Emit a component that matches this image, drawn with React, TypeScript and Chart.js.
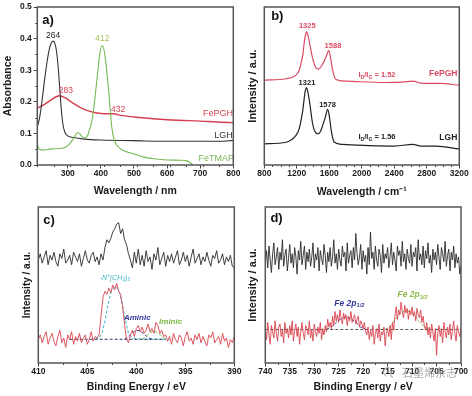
import React, { useEffect, useRef } from 'react';
import { Chart, registerables } from 'chart.js';
Chart.register(...registerables);

const FONT = "'Liberation Sans', Arial, Helvetica, sans-serif";
const W = 472;
const H = 396;

// ---------- Panel a: UV-vis ----------
const aTicksX = [300, 400, 500, 600, 700, 800];
const aTicksY = [0, 0.1, 0.2, 0.3, 0.4, 0.5];
const lghWl = [208, 215, 222, 230, 238, 245, 251, 256, 261, 266, 271, 276, 281, 286, 292, 300, 317, 350, 400, 500, 600, 700, 760, 800];
const lghAbs = [0.12, 0.15, 0.2, 0.27, 0.33, 0.37, 0.388, 0.392, 0.385, 0.36, 0.31, 0.24, 0.17, 0.125, 0.102, 0.092, 0.087, 0.082, 0.079, 0.077, 0.075, 0.075, 0.075, 0.078];
const fepghWl = [208, 230, 250, 265, 275, 290, 317, 340, 360, 380, 400, 420, 438, 460, 500, 550, 600, 650, 700, 750, 800];
const fepghAbs = [0.18, 0.192, 0.206, 0.216, 0.219, 0.214, 0.195, 0.181, 0.172, 0.166, 0.163, 0.162, 0.162, 0.157, 0.152, 0.147, 0.143, 0.141, 0.139, 0.136, 0.134];
const fetmapWl = [208, 214, 225, 250, 287, 301, 317, 329, 337, 345, 352, 362, 375, 387, 397, 404, 412, 423, 433, 440, 450, 470, 500, 530, 560, 600, 640, 660, 670, 678];
const fetmapAbs = [0.067, 0.05, 0.047, 0.051, 0.054, 0.062, 0.083, 0.102, 0.098, 0.088, 0.085, 0.099, 0.152, 0.258, 0.353, 0.378, 0.35, 0.24, 0.12, 0.08, 0.06, 0.045, 0.035, 0.025, 0.02, 0.016, 0.015, 0.013, 0.007, 0];

// ---------- Panel b: Raman ----------
const bTicksX = [800, 1200, 1600, 2000, 2400, 2800, 3200];
const ramanFePGHShift = [800, 1067, 1190, 1230, 1252, 1275, 1293, 1310, 1322, 1335, 1358, 1380, 1400, 1430, 1465, 1522, 1560, 1593, 1615, 1641, 1682, 1805, 2297, 2500, 2625, 2748, 2953, 3200];
const ramanFePGH = [53.7, 54.6, 56.9, 60, 64.3, 70, 78.1, 83, 84.5, 82.5, 77, 71, 66.5, 62, 60.7, 64.3, 68.5, 72.4, 68, 60, 54.1, 53.1, 52.2, 52.5, 53.1, 51.6, 51.6, 50.5];
const ramanLGHShift = [800, 1067, 1190, 1230, 1252, 1275, 1293, 1305, 1317, 1330, 1354, 1370, 1395, 1420, 1457, 1490, 1518, 1550, 1580, 1600, 1621, 1640, 1662, 1764, 2092, 2400, 2625, 2748, 2912, 3200];
const ramanLGH = [13.4, 14.4, 18.7, 23, 28.2, 35, 43, 47, 49, 47.5, 41, 35, 26.1, 21.5, 19.7, 21, 25.1, 30, 35.2, 31, 22.9, 17.5, 14.4, 13, 12.3, 12, 13, 11.9, 11.9, 10.2];

// ---------- Panel c: N 1s XPS ----------
const cTicksX = [410, 405, 400, 395, 390];
const cStart = 410;
const cStep = 0.2;
const n1sLGH = [66, 70, 64, 68, 72, 63, 69, 66, 71, 65, 62, 70, 67, 73, 64, 66, 69, 63, 71, 68, 65, 70, 62, 67, 72, 66, 64, 69, 71, 65, 68, 63, 70, 66,
  74, 79, 77, 80, 84, 86, 89, 90, 83, 86, 79, 76, 70,
  66, 61, 71, 64, 73, 63, 69, 62, 72, 65, 68, 60, 70, 66, 74, 63, 67, 71, 62, 69, 65, 70, 64, 68, 72, 63, 66, 71, 65, 69, 62, 68, 73, 64, 67, 70, 63, 68, 65, 71, 66, 62, 69, 67, 72, 64, 66, 70, 63, 68, 65, 69, 62, 61];
const n1sFePGH = [15, 18, 13, 17, 20, 12, 16, 19, 14, 11, 17, 21, 13, 16, 10, 18, 15, 20, 12, 17, 14, 19, 13, 16, 18, 12, 15, 20, 14, 17, 16,
  18, 30, 42, 46, 44, 48, 45, 50, 47, 51, 46, 44, 36, 25, 15, 13,
  18, 21, 17, 22, 24, 20, 23, 19, 21, 25, 20, 22, 19, 26, 24, 19, 21, 17, 18,
  14, 17, 12, 19, 15, 13, 18, 16, 11, 17, 20, 14, 16, 12, 18, 15, 19, 13, 17, 14, 11, 18, 16, 20, 13, 15, 17, 12, 19, 14, 16, 10, 15, 13, 17];
const cBaseE = [406.8, 397];
const cBaseI = [15.2, 15.2];
const cQuatE = [404.2, 403.8, 403.5, 403.2, 402.9, 402.6, 402.3, 402.0, 401.7, 401.4, 401.1, 400.8, 400.4, 399.5, 398.5, 397.5, 396.6];
const cQuatI = [15.2, 16, 19, 27, 37, 45, 48.5, 48.5, 45, 37, 27, 19, 16, 15.3, 15.2, 15.2, 15.0];
const cAminE = [401.2, 400.8, 400.4, 400.0, 399.6, 399.2, 398.8, 398.4];
const cAminI = [15.3, 17, 19.5, 21, 20.5, 18.5, 16.3, 15.3];
const cIminE = [399.4, 399.0, 398.6, 398.2, 397.8, 397.4, 397.0];
const cIminI = [15.3, 17, 19.5, 20.5, 19.5, 17, 15.3];

// ---------- Panel d: Fe 2p XPS ----------
const dTicksX = [740, 735, 730, 725, 720, 715, 710, 705, 700];
const dStart = 740;
const dStep = 0.25;
const fe2pLGH = [
  64, 72, 61, 75, 66, 58, 70, 77, 63, 68, 74, 60, 71, 66, 79, 62, 69, 73, 59, 67,
  76, 64, 70, 61, 74, 68, 57, 72, 66, 78, 63, 69, 75, 60, 71, 65, 73, 62, 68, 77,
  61, 70, 66, 74, 59, 72, 67, 63, 76, 69, 58, 71, 65, 74, 62, 68, 79, 64, 70, 60,
  73, 66, 62, 75, 68, 71, 59, 77, 64, 69, 72, 61, 74, 66, 83, 70, 63, 68, 76, 60,
  72, 65, 69, 57, 74, 63, 84, 67, 71, 60, 75, 66, 62, 73, 69, 58, 76, 64, 70, 67,
  74, 61, 68, 77, 63, 71, 66, 59, 75, 69, 72, 62, 78, 65, 70, 60, 73, 67, 64, 76,
  62, 71, 68, 74, 59, 79, 66, 70, 63, 75, 61, 72, 67, 77, 64, 69, 58, 73, 66, 71,
  63, 76, 68, 60, 74, 70, 65, 78, 62, 69, 73, 59, 71, 66, 75, 61, 70, 64, 68, 57,
  62];
const fe2pFePGH = [
  22, 15, 26, 18, 12, 24, 20, 16, 27, 19, 14, 23, 25, 17, 21, 13, 26, 19, 22, 16,
  24, 18, 27, 14, 21, 25, 17, 23, 12, 20, 26, 19, 15, 24, 22, 18, 27, 16, 21, 14,
  25, 20, 17, 23, 19, 26, 15, 22, 18, 24, 20, 28, 23, 26, 22,
  30, 24, 33, 27, 31,
  26, 34, 29, 25, 32, 28, 31, 24, 30, 27, 33, 26, 29, 31, 25, 28, 30, 23, 27, 25,
  22, 26, 20,
  18, 23, 15, 21, 17, 24, 12, 19, 22, 16, 25, 14, 20, 18, 23, 11, 19,
  22, 17, 24, 15, 26, 21,
  30, 36, 28, 34, 31, 39, 33, 29, 37, 32, 35, 28, 34, 31,
  36, 30, 33, 27, 35, 31, 29, 34, 26, 30, 24,
  21, 26, 18, 23, 16, 25, 20, 14, 22,
  5,
  19, 24, 17, 22, 13, 26, 20, 16, 23, 18, 25, 15, 21, 27, 19, 14, 24, 20, 17, 22];
const dBaseE = [740, 700];
const dBaseI = [21.5, 21.5];
const dHalfE = [727.5, 726.5, 725.5, 724.5, 723.5, 722.5, 721.5, 720.5, 719.5];
const dHalfI = [21.6, 23, 26, 28.5, 29.5, 28.5, 26, 23, 21.6];
const dThreeE = [715.5, 714.5, 713.5, 712.5, 711.5, 710.5, 709.5, 708.5, 707.5, 706.5];
const dThreeI = [21.6, 23.5, 27.5, 31.5, 33.5, 33, 30.5, 26.5, 23, 21.6];

// ---------- helpers ----------
const xy = (xs: number[], ys: number[]) => xs.map((x, i) => ({ x, y: ys[i] }));
const grid = (start: number, step: number, vals: number[]) => vals.map((v, i) => ({ x: start - i * step, y: v }));

type Seg = { t: string; s?: 'sub' | 'sup' };
type Note = { x: number; y: number; segs: Seg[] | string; color: string; size: number; weight?: string; style?: string };

function notesPlugin(items: Note[]) {
  return {
    id: 'notes',
    afterDatasetsDraw(chart: any) {
      const { ctx } = chart;
      const xs = chart.scales.x, ys = chart.scales.y;
      for (const n of items) {
        const px = xs.getPixelForValue(n.x);
        const py = ys.getPixelForValue(n.y);
        const segs: Seg[] = typeof n.segs === 'string' ? [{ t: n.segs }] : n.segs;
        const fontFor = (s: Seg) => `${n.style || 'normal'} ${n.weight || 'normal'} ${s.s ? n.size * 0.68 : n.size}px ${FONT}`;
        let total = 0;
        const widths = segs.map((s) => { ctx.font = fontFor(s); const w = ctx.measureText(s.t).width; total += w; return w; });
        let cx = px - total / 2;
        ctx.save();
        ctx.fillStyle = n.color;
        ctx.textBaseline = 'middle';
        ctx.textAlign = 'left';
        segs.forEach((s, i) => {
          ctx.font = fontFor(s);
          const dy = s.s === 'sub' ? n.size * 0.28 : s.s === 'sup' ? -n.size * 0.32 : 0;
          ctx.fillText(s.t, cx, py + dy);
          cx += widths[i];
        });
        ctx.restore();
      }
    },
  };
}

function framePlugin(minorX: number, minorY: number, majorsX: number[], majorsY: number[]) {
  return {
    id: 'frame',
    afterDraw(chart: any) {
      const { ctx, chartArea: a } = chart;
      const xs = chart.scales.x, ys = chart.scales.y;
      ctx.save();
      ctx.strokeStyle = '#444';
      ctx.lineWidth = 1;
      ctx.beginPath();
      if (minorX > 0) {
        for (let v = Math.min(xs.min, xs.max); v <= Math.max(xs.min, xs.max) + 1e-9; v += minorX) {
          if (majorsX.some((m) => Math.abs(m - v) < 1e-6)) continue;
          const p = Math.round(xs.getPixelForValue(v)) + 0.5;
          ctx.moveTo(p, a.bottom);
          ctx.lineTo(p, a.bottom + 2);
        }
      }
      if (minorY > 0) {
        for (let v = ys.min; v <= ys.max + 1e-9; v += minorY) {
          if (majorsY.some((m) => Math.abs(m - v) < 1e-6)) continue;
          const p = Math.round(ys.getPixelForValue(v)) + 0.5;
          ctx.moveTo(a.left, p);
          ctx.lineTo(a.left - 2, p);
        }
      }
      ctx.stroke();
      ctx.strokeStyle = '#555';
      ctx.lineWidth = 1.5;
      ctx.strokeRect(a.left, a.top, a.right - a.left, a.bottom - a.top);
      ctx.restore();
    },
  };
}

const watermarkPlugin = {
  id: 'watermark',
  afterDraw(chart: any) {
    const { ctx } = chart;
    ctx.save();
    ctx.globalAlpha = 0.75;
    ctx.strokeStyle = '#9a9a9a';
    ctx.lineWidth = 1.2;
    ctx.beginPath();
    ctx.arc(388, 372, 4.5, Math.PI * 0.6, Math.PI * 1.6);
    ctx.stroke();
    ctx.beginPath();
    ctx.arc(394, 374, 3.5, Math.PI * 0.6, Math.PI * 1.6);
    ctx.stroke();
    ctx.fillStyle = '#8a8a8a';
    ctx.font = "11px 'Noto Sans CJK SC', sans-serif";
    ctx.textBaseline = 'middle';
    ctx.fillText('石墨烯杂志', 402, 373);
    ctx.restore();
  },
};

type Geo = { left: number; top: number; right: number; bottom: number; yW: number; xH: number; xPad: number; yPad: number };

function makeChart(canvas: HTMLCanvasElement, p: {
  geo: Geo; datasets: any[]; xMin: number; xMax: number; reverse: boolean; xTicks: number[]; xTitle: string;
  yMin: number; yMax: number; yTicks: number[] | null; yTitle: string; yTitleSize: number; notes: Note[];
  minorX: number; minorY: number; extra?: any[];
}) {
  const g = p.geo;
  const tickFont = { family: FONT, size: 8.5, weight: 'bold' as const };
  const titleFont = { family: FONT, size: 10.5, weight: 'bold' as const };
  return new Chart(canvas, {
    type: 'line',
    data: { datasets: p.datasets },
    options: {
      animation: false,
      responsive: false,
      maintainAspectRatio: false,
      events: [],
      layout: { padding: { left: g.left - g.yW, top: g.top, right: W - g.right, bottom: H - g.bottom - g.xH } },
      plugins: { legend: { display: false }, tooltip: { enabled: false } },
      elements: { point: { radius: 0 } },
      scales: {
        x: {
          type: 'linear', min: p.xMin, max: p.xMax, reverse: p.reverse,
          afterBuildTicks: (s: any) => { s.ticks = p.xTicks.map((v) => ({ value: v })); },
          afterFit: (s: any) => { s.height = g.xH; s.paddingLeft = 0; s.paddingRight = 0; },
          grid: { display: true, drawOnChartArea: false, drawTicks: true, tickLength: 3.5, color: '#444', lineWidth: 1 },
          border: { display: false },
          ticks: { font: tickFont, color: '#1a1a1a', padding: 0, maxRotation: 0, autoSkip: false, callback: (v: any) => String(v) },
          title: { display: true, text: p.xTitle, font: titleFont, color: '#1a1a1a', padding: { top: 0, bottom: g.xPad } },
        },
        y: {
          type: 'linear', min: p.yMin, max: p.yMax,
          afterBuildTicks: (s: any) => { s.ticks = (p.yTicks || []).map((v) => ({ value: v })); },
          afterFit: (s: any) => { s.width = g.yW; s.paddingTop = 0; s.paddingBottom = 0; },
          grid: { display: !!p.yTicks, drawOnChartArea: false, drawTicks: true, tickLength: 3.5, color: '#444', lineWidth: 1 },
          border: { display: false },
          ticks: { display: !!p.yTicks, font: tickFont, color: '#1a1a1a', padding: 2, callback: (v: any) => Number(v).toFixed(1) },
          title: { display: true, text: p.yTitle, font: { ...titleFont, size: p.yTitleSize }, color: '#1a1a1a', padding: { top: g.yPad, bottom: 0 } },
        },
      },
    } as any,
    plugins: [framePlugin(p.minorX, p.minorY, p.xTicks, p.yTicks || []), notesPlugin(p.notes), ...(p.extra || [])],
  });
}

const RED = '#d63f50';
const line = (data: any[], color: string, width: number, extra: any = {}) => ({
  data, borderColor: color, borderWidth: width, pointRadius: 0, fill: false, ...extra,
});

export default function App() {
  const ra = useRef<HTMLCanvasElement>(null);
  const rb = useRef<HTMLCanvasElement>(null);
  const rc = useRef<HTMLCanvasElement>(null);
  const rd = useRef<HTMLCanvasElement>(null);

  useEffect(() => {
    document.body.style.margin = '0';
    const charts: Chart[] = [];
    const smooth = { cubicInterpolationMode: 'monotone', tension: 0.4 };

    charts.push(makeChart(ra.current!, {
      geo: { left: 37.3, top: 7, right: 233.3, bottom: 165, yW: 37.3, xH: 34, xPad: 1.5, yPad: 1.5 },
      datasets: [
        line(xy(fetmapWl, fetmapAbs), '#77ba57', 1.1, smooth),
        line(xy(lghWl, lghAbs), '#333333', 1.1, smooth),
        line(xy(fepghWl, fepghAbs), RED, 1.4, smooth),
      ],
      xMin: 208, xMax: 800, reverse: false, xTicks: aTicksX, xTitle: 'Wavelength / nm',
      yMin: 0, yMax: 0.5, yTicks: aTicksY, yTitle: 'Absorbance', yTitleSize: 10.5,
      minorX: 50, minorY: 0.05,
      notes: [
        { x: 240.4, y: 0.459, segs: 'a)', color: '#111', size: 13, weight: 'bold' },
        { x: 255.5, y: 0.408, segs: '264', color: '#222', size: 8.5 },
        { x: 404.7, y: 0.401, segs: '412', color: '#a3c058', size: 8.5 },
        { x: 294, y: 0.236, segs: '283', color: RED, size: 8.5 },
        { x: 452, y: 0.175, segs: '432', color: RED, size: 8.5 },
        { x: 753.7, y: 0.162, segs: 'FePGH', color: RED, size: 9 },
        { x: 770.7, y: 0.092, segs: 'LGH', color: '#333', size: 9 },
        { x: 748.6, y: 0.02, segs: 'FeTMAP', color: '#77ba57', size: 9 },
      ],
    }));

    const bRed = '#d94a62';
    charts.push(makeChart(rb.current!, {
      geo: { left: 264.3, top: 7, right: 459.3, bottom: 165, yW: 19, xH: 34, xPad: 1, yPad: 1.3 },
      datasets: [
        line(xy(ramanFePGHShift, ramanFePGH), bRed, 1.2, smooth),
        line(xy(ramanLGHShift, ramanLGH), '#222222', 1.2, smooth),
      ],
      xMin: 800, xMax: 3200, reverse: false, xTicks: bTicksX, xTitle: 'Wavelength / cm⁻¹',
      yMin: 0, yMax: 100, yTicks: null, yTitle: 'Intensity / a.u.', yTitleSize: 11,
      minorX: 100, minorY: 0,
      notes: [
        { x: 960, y: 94, segs: 'b)', color: '#111', size: 13, weight: 'bold' },
        { x: 1329, y: 87.7, segs: '1325', color: bRed, size: 7.5, weight: 'bold' },
        { x: 1645, y: 75.6, segs: '1588', color: bRed, size: 7.5, weight: 'bold' },
        { x: 2187, y: 56.9, segs: [{ t: 'I' }, { t: 'D', s: 'sub' }, { t: '/I' }, { t: 'G', s: 'sub' }, { t: ' = 1.52' }], color: bRed, size: 7.5, weight: 'bold' },
        { x: 3003, y: 57.5, segs: 'FePGH', color: bRed, size: 8.5, weight: 'bold' },
        { x: 1325, y: 52, segs: '1321', color: '#222', size: 7.5, weight: 'bold' },
        { x: 1578, y: 37.8, segs: '1578', color: '#222', size: 7.5, weight: 'bold' },
        { x: 2187, y: 17.6, segs: [{ t: 'I' }, { t: 'D', s: 'sub' }, { t: '/I' }, { t: 'G', s: 'sub' }, { t: ' = 1.56' }], color: '#222', size: 7.5, weight: 'bold' },
        { x: 3065, y: 17.6, segs: 'LGH', color: '#222', size: 8.5, weight: 'bold' },
      ],
    }));

    const dash = { borderDash: [3, 2] };
    charts.push(makeChart(rc.current!, {
      geo: { left: 38.3, top: 207, right: 234.3, bottom: 363, yW: 18, xH: 32, xPad: 1.5, yPad: 1 },
      datasets: [
        line(grid(cStart, cStep, n1sLGH), '#2a2a2a', 0.9),
        line(grid(cStart, cStep, n1sFePGH), '#d9454f', 0.9),
        line(xy(cBaseE, cBaseI), '#333a66', 1, dash),
        line(xy(cQuatE, cQuatI), '#3db6c9', 1, dash),
        line(xy(cAminE, cAminI), '#343a9a', 1, dash),
        line(xy(cIminE, cIminI), '#7cba45', 1, dash),
      ],
      xMin: 390, xMax: 410, reverse: true, xTicks: cTicksX, xTitle: 'Binding Energy / eV',
      yMin: 0, yMax: 100, yTicks: null, yTitle: 'Intensity / a.u.', yTitleSize: 10,
      minorX: 2.5, minorY: 0,
      notes: [
        { x: 408.9, y: 91.6, segs: 'c)', color: '#111', size: 13, weight: 'bold' },
        { x: 402.2, y: 54.7, segs: [{ t: '-N' }, { t: '+', s: 'sup' }, { t: '(CH' }, { t: '3', s: 'sub' }, { t: ')' }, { t: '3', s: 'sub' }], color: '#3db6c9', size: 7, style: 'italic' },
        { x: 399.9, y: 29, segs: 'Aminic', color: '#343a9a', size: 8, weight: 'bold', style: 'italic' },
        { x: 396.5, y: 26.3, segs: 'Iminic', color: '#7cba45', size: 8, weight: 'bold', style: 'italic' },
      ],
    }));

    charts.push(makeChart(rd.current!, {
      geo: { left: 265.3, top: 207, right: 461, bottom: 363, yW: 20, xH: 32, xPad: 1.5, yPad: 1.3 },
      datasets: [
        line(grid(dStart, dStep, fe2pLGH), '#2a2a2a', 0.9),
        line(grid(dStart, dStep, fe2pFePGH), '#d9454f', 0.9),
        line(xy(dBaseE, dBaseI), '#555555', 1, dash),
        line(xy(dHalfE, dHalfI), '#343a9a', 1, dash),
        line(xy(dThreeE, dThreeI), '#7cba45', 1, dash),
      ],
      xMin: 700, xMax: 740, reverse: true, xTicks: dTicksX, xTitle: 'Binding Energy / eV',
      yMin: 0, yMax: 100, yTicks: null, yTitle: 'Intensity / a.u.', yTitleSize: 11,
      minorX: 2.5, minorY: 0,
      notes: [
        { x: 737.7, y: 92.6, segs: 'd)', color: '#111', size: 13, weight: 'bold' },
        { x: 722.8, y: 38.3, segs: [{ t: 'Fe 2p' }, { t: '1/2', s: 'sub' }], color: '#343a9a', size: 8.5, weight: 'bold', style: 'italic' },
        { x: 709.9, y: 43.6, segs: [{ t: 'Fe 2p' }, { t: '3/2', s: 'sub' }], color: '#8dba4a', size: 8.5, weight: 'bold', style: 'italic' },
      ],
      extra: [watermarkPlugin],
    }));

    return () => { charts.forEach((c) => c.destroy()); };
  }, []);

  const cs: React.CSSProperties = { position: 'absolute', left: 0, top: 0, width: W, height: H };
  return (
    <div style={{ position: 'fixed', left: 0, top: 0, width: W, height: H, background: '#fff', overflow: 'hidden' }}>
      <canvas ref={ra} width={W} height={H} style={cs} />
      <canvas ref={rb} width={W} height={H} style={cs} />
      <canvas ref={rc} width={W} height={H} style={cs} />
      <canvas ref={rd} width={W} height={H} style={cs} />
    </div>
  );
}
